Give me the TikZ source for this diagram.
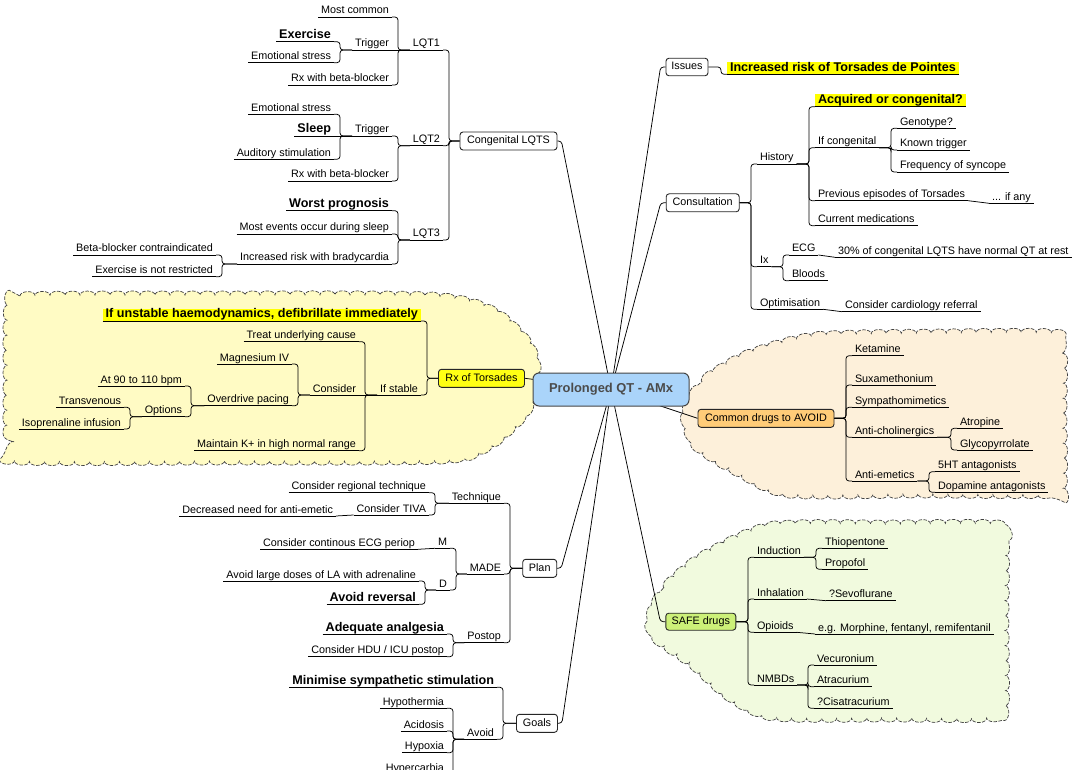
\documentclass[tikz,border=0pt]{standalone}
\usepackage{fontspec}
\setmainfont{Liberation Sans}
\usetikzlibrary{calc,decorations.pathmorphing}
\definecolor{ctrblue}{RGB}{170,212,250}
\definecolor{ctrline}{RGB}{70,70,70}
\definecolor{ctrtext}{RGB}{75,75,75}
\definecolor{hly}{RGB}{255,255,0}
\definecolor{rxy}{RGB}{255,255,20}
\definecolor{cdor}{RGB}{255,204,120}
\definecolor{sfgr}{RGB}{204,240,120}
\definecolor{cly}{RGB}{255,251,196}
\definecolor{clo}{RGB}{253,240,218}
\definecolor{clg}{RGB}{241,250,222}
\newcommand\fsn{\fontsize{10.8}{13}\selectfont}
\newcommand\fsb{\fontsize{12.6}{15}\selectfont\bfseries}
\newcommand\fsc{\fontsize{12.9}{15}\selectfont\bfseries}
\pgfdeclarelayer{clouds}
\pgfdeclarelayer{lines}
\pgfsetlayers{clouds,lines,main}
\tikzset{
  lf/.style={font=\fsn, inner xsep=3pt, inner ysep=0pt, text height=8pt, text depth=3pt, outer sep=0pt},
  lb/.style={lf, font=\fsb, text height=9.3pt},
  leL/.style={lf, anchor=south east},
  bL/.style={lb, anchor=south east},
  leR/.style={lf, anchor=south west},
  bR/.style={lb, anchor=south west},
  hl/.style={fill=hly},
  bx/.style={draw=black!85, line width=0.9pt, rounded corners=3pt, fill=white, font=\fsn, inner xsep=0pt, inner ysep=0pt, text height=8pt, text depth=2.3pt, minimum height=18pt},
  ctr/.style={draw=ctrline, line width=1pt, rounded corners=6pt, fill=ctrblue, font=\fsc, text=ctrtext, minimum width=156pt, minimum height=33pt},
  ul/.style={line width=0.8pt},
  cn/.style={line width=0.75pt, rounded corners=3pt},
  L/.style={to path={-| ($(\tikztotarget)+(#1,0)$) -- (\tikztotarget)}}, L/.default=6,
  R/.style={to path={-| ($(\tikztotarget)+(-#1,0)$) -- (\tikztotarget)}}, R/.default=6,
  cloudst/.style={draw=black!75, line width=0.7pt, dash pattern=on 3.5pt off 1.5pt, decorate, decoration={bumps, segment length=30pt, amplitude=4pt}},
}
\begin{document}
\begin{tikzpicture}[x=1pt,y=-1pt]
\useasboundingbox (0,0) rectangle (1072,770);

% background and clouds
\begin{pgfonlayer}{clouds}
\fill[white] (0,0) rectangle (1072,770);
\path[cloudst, fill=cly] plot[smooth cycle, tension=0.45] coordinates {(8,306) (20,296) (220,295) (430,296) (492,310) (528,342) (538,378) (526,413) (490,446) (440,460) (220,461) (20,461) (8,450) (7,380)};
\path[cloudst, fill=clo] plot[smooth cycle, tension=0.45] coordinates {(685,415) (702,382) (745,355) (815,336) (940,333) (1052,333) (1063,344) (1063,414) (1063,483) (1052,494) (920,494) (790,494) (740,474) (697,447)};
\path[cloudst, fill=clg] plot[smooth cycle, tension=0.45] coordinates {(651,615) (664,588) (700,557) (770,526) (890,524) (995,524) (1005,535) (1005,620) (1005,708) (995,718) (890,718) (775,717) (730,698) (692,665) (655,638)};
\end{pgfonlayer}

% central node and boxes
\node[ctr] (c) at (611,389.5) {Prolonged QT - AMx};
\node[bx, minimum width=97pt] (clq) at (508.5,141) {Congenital LQTS};
\node[bx, minimum width=86pt, fill=rxy] (rx) at (481.5,378.3) {Rx of Torsades};
\node[bx, minimum width=34pt] (plan) at (539.7,568.3) {Plan};
\node[bx, minimum width=41pt] (goals) at (537,723.3) {Goals};
\node[bx, minimum width=42pt, minimum height=17.5pt] (iss) at (687,67) {Issues};
\node[bx, minimum width=73pt] (cons) at (702.7,202.8) {Consultation};
\node[bx, minimum width=136pt, fill=cdor] (cd) at (766,418.3) {Common drugs to AVOID};
\node[bx, minimum width=70pt, minimum height=17pt, fill=sfgr] (safe) at (700.8,621.7) {SAFE drugs};

% Congenital LQTS
\node[leL] (lqt1) at (443,50) {LQT1};
\node[leL] (l1mc) at (392,17) {Most common};
\node[leL] (l1tr) at (392,50) {Trigger};
\node[bL]  (l1ex) at (334,41.7) {Exercise};
\node[leL] (l1es) at (334,62.7) {Emotional stress};
\node[leL] (l1rx) at (392,85) {Rx with beta-blocker};
\node[leL] (lqt2) at (443,145.7) {LQT2};
\node[leL] (l2tr) at (392,136) {Trigger};
\node[leL] (l2es) at (334,114.3) {Emotional stress};
\node[bL]  (l2sl) at (334,136) {Sleep};
\node[leL] (l2au) at (334,159.3) {Auditory stimulation};
\node[leL] (l2rx) at (392,181) {Rx with beta-blocker};
\node[leL] (lqt3) at (443,240) {LQT3};
\node[bL]  (l3wp) at (392,210.7) {Worst prognosis};
\node[leL] (l3me) at (392,234) {Most events occur during sleep};
\node[leL] (l3ir) at (392,264) {Increased risk with bradycardia};
\node[leL] (l3bb) at (216,255) {Beta-blocker contraindicated};
\node[leL] (l3ex) at (216,276.7) {Exercise is not restricted};

% Rx of Torsades
\node[bL, hl] (rxun) at (421,321) {If unstable haemodynamics, defibrillate immediately};
\node[leL] (rxst) at (421,395) {If stable};
\node[leL] (rxtu) at (359,341.7) {Treat underlying cause};
\node[leL] (rxco) at (359,395) {Consider};
\node[leL] (rxmk) at (359,450.7) {Maintain K+ in high normal range};
\node[leL] (rxmg) at (292,364) {Magnesium IV};
\node[leL] (rxop) at (292,405.7) {Overdrive pacing};
\node[leL] (rx90) at (185,386) {At 90 to 110 bpm};
\node[leL] (rxopt) at (185,416.7) {Options};
\node[leL] (rxtv) at (124,407.3) {Transvenous};
\node[leL] (rxis) at (124,429) {Isoprenaline infusion};

% Plan
\node[leL] (pltq) at (504,503.3) {Technique};
\node[leL] (plcr) at (429,492.7) {Consider regional technique};
\node[leL] (plct) at (429,515) {Consider TIVA};
\node[leL] (pldn) at (336,516) {Decreased need for anti-emetic};
\node[leL] (plmd) at (504,574) {MADE};
\node[leL] (plm) at (450,548.3) {M};
\node[leL] (plme) at (418,549.3) {Consider continous ECG periop};
\node[leL] (pld) at (450,590) {D};
\node[leL] (plla) at (419,581) {Avoid large doses of LA with adrenaline};
\node[bL]  (plar) at (419,604.3) {Avoid reversal};
\node[leL] (plpo) at (504,642.7) {Postop};
\node[bL]  (plaa) at (447,634) {Adequate analgesia};
\node[leL] (plhd) at (447,656.7) {Consider HDU / ICU postop};

% Goals
\node[bL]  (gomi) at (497,687.3) {Minimise sympathetic stimulation};
\node[leL] (goav) at (497,739.3) {Avoid};
\node[leL] (gohy) at (447,708.3) {Hypothermia};
\node[leL] (goac) at (447,731) {Acidosis};
\node[leL] (gohx) at (447,752.7) {Hypoxia};
\node[leL] (gohc) at (447,774) {Hypercarbia};

% Issues
\node[bR, hl] (isir) at (727,74.3) {Increased risk of Torsades de Pointes};

% Consultation
\node[leR] (chi) at (757,164) {History};
\node[leR] (cix) at (757,266.7) {Ix};
\node[leR] (cop) at (757,309.3) {Optimisation};
\node[bR, hl] (cac) at (815,106.7) {Acquired or congenital?};
\node[leR] (cic) at (815,147.7) {If congenital};
\node[leR] (cpe) at (815,200.7) {Previous episodes of Torsades};
\node[leR] (ccm) at (815,225.7) {Current medications};
\node[leR] (cge) at (897,128.3) {Genotype?};
\node[leR] (ckt) at (897,150) {Known trigger};
\node[leR] (cfs) at (897,172) {Frequency of syncope};
\node[leR] (cia) at (989,203.3) {... if any};
\node[leR] (cecg) at (789,255) {ECG};
\node[leR] (cbl) at (789,280.7) {Bloods};
\node[leR] (c30) at (835,257.3) {30\% of congenital LQTS have normal QT at rest};
\node[leR] (ccr) at (842,311.7) {Consider cardiology referral};

% Common drugs to avoid
\node[leR] (dk) at (852,355.7) {Ketamine};
\node[leR] (dsu) at (852,385) {Suxamethonium};
\node[leR] (dsy) at (852,407.3) {Sympathomimetics};
\node[leR] (dac) at (852,437.3) {Anti-cholinergics};
\node[leR] (dae) at (852,481) {Anti-emetics};
\node[leR] (dat) at (957,428.3) {Atropine};
\node[leR] (dgl) at (957,450) {Glycopyrrolate};
\node[leR] (d5h) at (935,471.7) {5HT antagonists};
\node[leR] (ddo) at (935,492.3) {Dopamine antagonists};

% SAFE drugs
\node[leR] (sin) at (754,557.3) {Induction};
\node[leR] (sih) at (754,599) {Inhalation};
\node[leR] (sop) at (754,632.3) {Opioids};
\node[leR] (snm) at (754,685) {NMBDs};
\node[leR] (sth) at (822,548.3) {Thiopentone};
\node[leR] (spr) at (822,569.3) {Propofol};
\node[leR] (ssv) at (826,600.7) {?Sevoflurane};
\node[leR] (seg) at (815,634) {e.g. Morphine, fentanyl, remifentanil};
\node[leR] (sve) at (814,665) {Vecuronium};
\node[leR] (sat) at (814,686.7) {Atracurium};
\node[leR] (sci) at (814,708.3) {?Cisatracurium};

% underlines
\foreach \n in {lqt1,l1mc,l1tr,l1ex,l1es,l1rx,lqt2,l2tr,l2es,l2sl,l2au,l2rx,lqt3,l3wp,l3me,l3ir,l3bb,l3ex,
  rxun,rxst,rxtu,rxco,rxmk,rxmg,rxop,rx90,rxopt,rxtv,rxis,
  pltq,plcr,plct,pldn,plmd,plm,plme,pld,plla,plar,plpo,plaa,plhd,
  gomi,goav,gohy,goac,gohx,gohc,isir,
  chi,cix,cop,cac,cic,cpe,ccm,cge,ckt,cfs,cia,cecg,cbl,c30,ccr,
  dk,dsu,dsy,dac,dae,dat,dgl,d5h,ddo,
  sin,sih,sop,snm,sth,spr,ssv,seg,sve,sat,sci}
  \draw[ul] (\n.south west) -- (\n.south east);

% main branches
\begin{pgfonlayer}{lines}
\draw[cn] (c.center) -- ($(clq.east)+(4,0)$) -- (clq.east);
\draw[cn] (c.center) -- (rx.east);
\draw[cn] (c.center) -- ($(plan.east)+(4,0)$) -- (plan.east);
\draw[cn] (c.center) -- ($(goals.east)+(4,0)$) -- (goals.east);
\draw[cn] (c.center) -- ($(iss.west)+(-5,0)$) -- (iss.west);
\draw[cn] (c.center) -- ($(cons.west)+(-5,0)$) -- (cons.west);
\draw[cn] (c.center) -- (cd.west);
\draw[cn] (c.center) -- ($(safe.west)+(-5,0)$) -- (safe.west);
\end{pgfonlayer}

% tree connectors, left side
\foreach \t in {lqt1,lqt2,lqt3} \draw[cn] (clq.west) to[L] (\t.south east);
\foreach \t in {l1mc,l1rx} \draw[cn] (lqt1.south west) to[L] (\t.south east);
\draw[cn] (lqt1.south west) -- (l1tr.south east);
\foreach \t in {l1ex,l1es} \draw[cn] (l1tr.south west) to[L] (\t.south east);
\foreach \t in {l2tr,l2rx} \draw[cn] (lqt2.south west) to[L] (\t.south east);
\foreach \t in {l2es,l2au} \draw[cn] (l2tr.south west) to[L] (\t.south east);
\draw[cn] (l2tr.south west) -- (l2sl.south east);
\foreach \t in {l3wp,l3me,l3ir} \draw[cn] (lqt3.south west) to[L] (\t.south east);
\foreach \t in {l3bb,l3ex} \draw[cn] (l3ir.south west) to[L] (\t.south east);

\foreach \t in {rxun,rxst} \draw[cn] (rx.west) to[L] (\t.south east);
\foreach \t in {rxtu,rxmk} \draw[cn] (rxst.south west) to[L] (\t.south east);
\draw[cn] (rxst.south west) -- (rxco.south east);
\foreach \t in {rxmg,rxop} \draw[cn] (rxco.south west) to[L] (\t.south east);
\foreach \t in {rx90,rxopt} \draw[cn] (rxop.south west) to[L] (\t.south east);
\foreach \t in {rxtv,rxis} \draw[cn] (rxopt.south west) to[L] (\t.south east);

\foreach \t in {pltq,plmd,plpo} \draw[cn] (plan.west) to[L] (\t.south east);
\foreach \t in {plcr,plct} \draw[cn] (pltq.south west) to[L] (\t.south east);
\draw[cn] (plct.south west) -- (pldn.south east);
\foreach \t in {plm,pld} \draw[cn] (plmd.south west) to[L] (\t.south east);
\draw[cn] (plm.south west) -- (plme.south east);
\foreach \t in {plla,plar} \draw[cn] (pld.south west) to[L] (\t.south east);
\foreach \t in {plaa,plhd} \draw[cn] (plpo.south west) to[L] (\t.south east);

\foreach \t in {gomi,goav} \draw[cn] (goals.west) to[L] (\t.south east);
\foreach \t in {gohy,goac,gohx,gohc} \draw[cn] (goav.south west) to[L] (\t.south east);

% tree connectors, right side
\draw[cn] (iss.east) to[R] (isir.south west);
\foreach \t in {chi,cix,cop} \draw[cn] (cons.east) to[R] (\t.south west);
\foreach \t in {cac,cic,cpe,ccm} \draw[cn] (chi.south east) to[R] (\t.south west);
\foreach \t in {cge,ckt,cfs} \draw[cn] (cic.south east) to[R] (\t.south west);
\draw[cn] (cpe.south east) -- (cia.south west);
\foreach \t in {cecg,cbl} \draw[cn] (cix.south east) to[R] (\t.south west);
\draw[cn] (cecg.south east) -- (c30.south west);
\draw[cn] (cop.south east) -- (ccr.south west);

\foreach \t in {dk,dsu,dsy,dac,dae} \draw[cn] (cd.east) to[R] (\t.south west);
\foreach \t in {dat,dgl} \draw[cn] (dac.south east) to[R] (\t.south west);
\foreach \t in {d5h,ddo} \draw[cn] (dae.south east) to[R] (\t.south west);

\foreach \t in {sin,sih,sop,snm} \draw[cn] (safe.east) to[R] (\t.south west);
\foreach \t in {sth,spr} \draw[cn] (sin.south east) to[R] (\t.south west);
\draw[cn] (sih.south east) -- (ssv.south west);
\draw[cn] (sop.south east) -- (seg.south west);
\foreach \t in {sve,sat,sci} \draw[cn] (snm.south east) to[R] (\t.south west);
\end{tikzpicture}
\end{document}
